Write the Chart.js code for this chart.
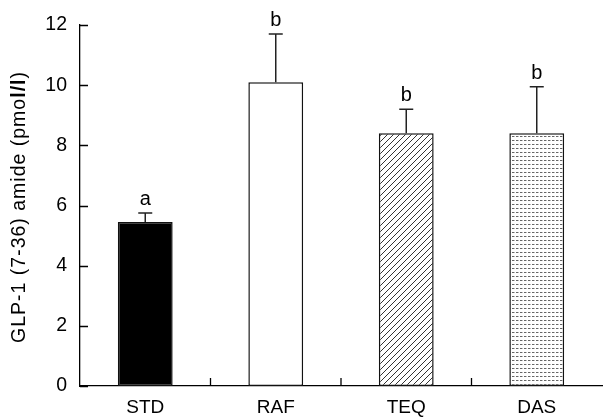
<!DOCTYPE html>
<html lang="en">
<head>
<meta charset="UTF-8">
<title>GLP-1 amide</title>
<script src="https://cdn.jsdelivr.net/npm/chart.js"></script>
<style>
  body, html { margin: 0; background: #fff; }
  .wrap { width: 604px; height: 418px; position: relative; }
</style>
</head>
<body>
<div class="wrap"><canvas id="glpChart"></canvas></div>
<script>
const groups = ["STD", "RAF", "TEQ", "DAS"];
const means = [5.45, 10.1, 8.4, 8.4];
const sems = [0.3, 1.6, 0.8, 1.55];
const letters = ["a", "b", "b", "b"];
const yTicks = [0, 2, 4, 6, 8, 10, 12];

const FONT = "'Liberation Sans', Arial, sans-serif";

// hatch for TEQ
function hatchPattern() {
  const c = document.createElement('canvas');
  c.width = 6; c.height = 6;
  const g = c.getContext('2d');
  g.fillStyle = '#fff'; g.fillRect(0, 0, 6, 6);
  g.strokeStyle = '#333'; g.lineWidth = 1;
  g.beginPath();
  g.moveTo(0, 6); g.lineTo(6, 0);
  g.moveTo(-1, 1); g.lineTo(1, -1);
  g.moveTo(5, 7); g.lineTo(7, 5);
  g.stroke();
  return g.createPattern(c, 'repeat');
}
// dots for DAS
function dotPattern() {
  const c = document.createElement('canvas');
  c.width = 4; c.height = 4;
  const g = c.getContext('2d');
  g.fillStyle = '#fff'; g.fillRect(0, 0, 4, 4);
  g.fillStyle = '#666'; g.fillRect(0, 0, 2, 1);
  g.fillStyle = '#bbb'; g.fillRect(2, 0, 1, 1);
  return g.createPattern(c, 'repeat');
}

const errorBars = {
  id: 'errorBars',
  afterDatasetsDraw(chart) {
    const { ctx, scales: { x, y } } = chart;
    const meta = chart.getDatasetMeta(0);
    ctx.save();
    ctx.strokeStyle = '#222';
    ctx.lineWidth = 1.5;
    ctx.fillStyle = '#000';
    ctx.font = '20px ' + FONT;
    ctx.textAlign = 'center';
    ctx.textBaseline = 'alphabetic';
    meta.data.forEach((bar, i) => {
      const top = y.getPixelForValue(means[i] + sems[i]);
      const base = y.getPixelForValue(means[i]);
      ctx.beginPath();
      ctx.moveTo(bar.x, base);
      ctx.lineTo(bar.x, top);
      ctx.moveTo(bar.x - 7, top);
      ctx.lineTo(bar.x + 7, top);
      ctx.stroke();
      ctx.fillText(letters[i], bar.x, top - 8);
    });
    ctx.restore();
  }
};

// inward ticks + y title with bold l/l
const axisExtras = {
  id: 'axisExtras',
  afterDraw(chart) {
    const { ctx, scales: { x, y }, chartArea } = chart;
    ctx.save();
    ctx.strokeStyle = '#000';
    ctx.lineWidth = 1.3;
    ctx.beginPath();
    yTicks.forEach(v => {
      const py = Math.round(y.getPixelForValue(v)) + 0.5;
      ctx.moveTo(chartArea.left, py);
      ctx.lineTo(chartArea.left + 8, py);
    });
    for (let i = 0; i < groups.length - 1; i++) {
      const px = (x.getPixelForValue(i) + x.getPixelForValue(i + 1)) / 2;
      ctx.moveTo(px, chartArea.bottom);
      ctx.lineTo(px, chartArea.bottom - 8);
    }
    ctx.stroke();

    const parts = [
      ['GLP-1 (7-36) amide (pmo', 'normal'],
      ['l/l', 'bold'],
      [')', 'normal']
    ];
    ctx.letterSpacing = '1px';
    let total = 0;
    parts.forEach(p => { ctx.font = p[1] + ' 19.5px ' + FONT; total += ctx.measureText(p[0]).width; });
    ctx.translate(20, (chartArea.top + chartArea.bottom) / 2 + 1.5);
    ctx.rotate(-Math.PI / 2);
    ctx.textBaseline = 'middle';
    ctx.textAlign = 'left';
    ctx.fillStyle = '#000';
    let cx = -total / 2;
    parts.forEach(p => {
      ctx.font = p[1] + ' 19.5px ' + FONT;
      ctx.fillText(p[0], cx, 0);
      cx += ctx.measureText(p[0]).width;
    });
    ctx.restore();
  }
};

new Chart(document.getElementById('glpChart'), {
  type: 'bar',
  data: {
    labels: groups,
    datasets: [{
      data: means,
      backgroundColor: ['#000', '#fff', hatchPattern(), dotPattern()],
      borderColor: '#111',
      borderWidth: 1.5,
      borderSkipped: false,
      barPercentage: 0.42,
      categoryPercentage: 1
    }]
  },
  options: {
    responsive: true,
    maintainAspectRatio: false,
    animation: false,
    layout: { padding: { top: 25, right: 2, left: 0, bottom: 0 } },
    plugins: { legend: { display: false }, tooltip: { enabled: false } },
    scales: {
      x: {
        grid: { display: false },
        border: { color: '#000', width: 1.3 },
        ticks: { color: '#000', font: { size: 19, family: FONT }, padding: 2 },
        afterFit(s) { s.height = 32; }
      },
      y: {
        min: 0, max: 12,
        afterBuildTicks(s) { s.ticks = yTicks.map(v => ({ value: v })); },
        grid: { display: false },
        border: { color: '#000', width: 1.3 },
        ticks: { color: '#000', font: { size: 19.5, family: FONT }, padding: 5 },
        afterFit(s) { s.width = 80; }
      }
    }
  },
  plugins: [errorBars, axisExtras]
});
</script>
</body>
</html>
